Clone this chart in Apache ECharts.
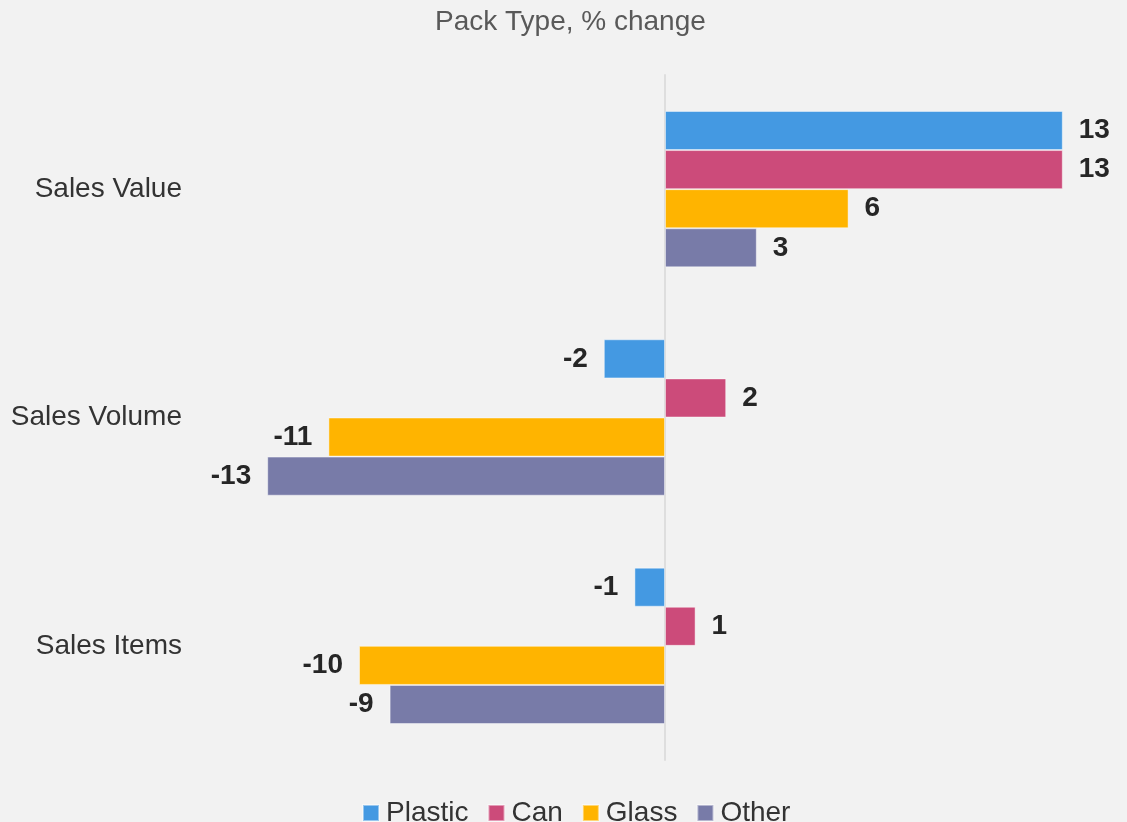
<!DOCTYPE html>
<html>
<head>
<meta charset="utf-8">
<title>Pack Type, % change</title>
<script src="https://cdn.jsdelivr.net/npm/echarts@6/dist/echarts.min.js"></script>
<style>
  html, body { margin: 0; padding: 0; background: #f2f2f2; }
  #chart { width: 1127px; height: 822px; }
</style>
</head>
<body>
<div id="chart"></div>
<script>
const categories = ['Sales Value', 'Sales Volume', 'Sales Items']
const seriesNames = ['Plastic', 'Can', 'Glass', 'Other']
const plastic = [13, -2, -1]
const can = [13, 2, 1]
const glass = [6, -11, -10]
const other = [3, -13, -9]
const colors = ['#4499e2', '#cc4b7a', '#ffb400', '#787ba8']

const values = [plastic, can, glass, other]
const font = '"Liberation Sans", Arial, sans-serif'

// labels sit outside the bar end, on whichever side the bar points
function toItems (arr) {
  return arr.map(v => ({
    value: v,
    label: { position: v < 0 ? 'left' : 'right' }
  }))
}

const chart = echarts.init(document.getElementById('chart'))
const option = {
  backgroundColor: '#f2f2f2',
  animation: false,
  title: {
    text: 'Pack Type, % change',
    left: 430,
    top: 3,
    textStyle: { color: '#595959', fontSize: 28, fontWeight: 'normal', fontFamily: font }
  },
  legend: {
    data: seriesNames,
    bottom: -10,
    left: 357,
    icon: 'rect',
    itemWidth: 16,
    itemHeight: 16,
    itemGap: 19,
    textStyle: { color: '#333', fontSize: 28, fontFamily: font, padding: [0, 0, 0, 2] }
  },
  grid: {
    left: 206,
    right: 3,
    top: 75,
    bottom: 62,
    containLabel: false
  },
  xAxis: {
    type: 'value',
    min: -15,
    max: 15,
    interval: 5,
    show: false,
    splitLine: { show: false }
  },
  yAxis: [
    {
      type: 'category',
      data: categories,
      inverse: true,
      axisLine: { show: false, onZero: false },
      axisTick: { show: false },
      axisLabel: { color: '#333', fontSize: 28, fontFamily: font, margin: 24 }
    },
    {
      type: 'category',
      data: categories,
      inverse: true,
      axisLine: { show: true, onZero: true, lineStyle: { color: '#dedede', width: 2 } },
      axisTick: { show: false },
      axisLabel: { show: false }
    }
  ],
  series: seriesNames.map((name, i) => ({
    name: name,
    type: 'bar',
    yAxisIndex: 0,
    data: toItems(values[i]),
    barGap: '0%',
    barCategoryGap: '31.5%',
    itemStyle: { color: colors[i], borderColor: 'rgba(255,255,255,0.45)', borderWidth: 1 },
    label: {
      show: true,
      distance: 16,
      color: '#262626',
      fontSize: 28,
      fontWeight: 'bold',
      fontFamily: font
    }
  }))
}
chart.setOption(option)
</script>
</body>
</html>
